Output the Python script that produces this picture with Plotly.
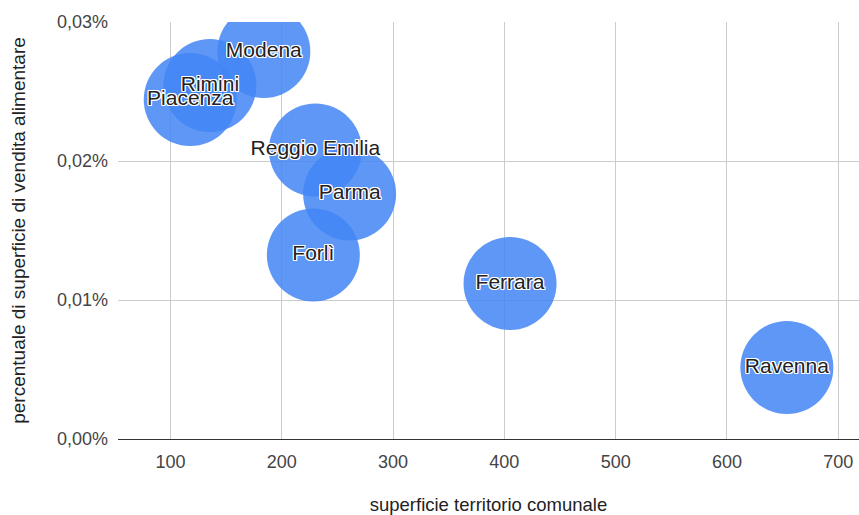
import plotly.graph_objects as go

comuni = ["Piacenza", "Rimini", "Modena", "Reggio Emilia", "Parma", "Forlì", "Ferrara", "Ravenna"]
superficie = [117.8, 135.5, 183.9, 230.2, 261.0, 228.4, 405.1, 653.8]
percentuale = [0.0002442, 0.0002543, 0.0002788, 0.0002079, 0.0001763, 0.0001324, 0.0001119, 0.0000514]

font_family = "Liberation Sans, Arial, sans-serif"
halo = ("1px 1px 0 #fff, -1px -1px 0 #fff, 1px -1px 0 #fff, -1px 1px 0 #fff, "
        "1px 0 0 #fff, -1px 0 0 #fff, 0 1px 0 #fff, 0 -1px 0 #fff")

fig = go.Figure(
    go.Scatter(
        x=superficie,
        y=percentuale,
        mode="markers+text",
        text=comuni,
        textposition="middle center",
        textfont=dict(family=font_family, size=21, color="#222222", shadow=halo),
        marker=dict(size=93, color="#4285F4", opacity=0.85, line=dict(width=0)),
        hoverinfo="x+y+text",
        cliponaxis=True,
    )
)

fig.update_layout(
    width=859,
    height=515,
    margin=dict(l=118, r=0, t=22, b=76),
    paper_bgcolor="white",
    plot_bgcolor="white",
    separators=",.",
    showlegend=False,
    font=dict(family=font_family, size=18, color="#444444"),
    shapes=[
        dict(type="rect", xref="paper", yref="paper", x0=0, x1=1, y0=1.0, y1=1.2,
             fillcolor="white", line=dict(width=0), layer="above"),
    ],
)

fig.update_xaxes(
    range=[52.9, 718.6],
    tickvals=[100, 200, 300, 400, 500, 600, 700],
    showgrid=True,
    gridcolor="#cccccc",
    gridwidth=1,
    zeroline=False,
    showline=False,
    ticks="",
    ticklabelstandoff=10,
    automargin=False,
    tickfont=dict(size=18, color="#444444"),
    title=dict(text="superficie territorio comunale", font=dict(size=18.5, color="#222222"), standoff=38),
)

fig.update_yaxes(
    range=[0, 0.0003],
    tickvals=[0, 0.0001, 0.0002, 0.0003],
    tickformat=".2%",
    showgrid=True,
    gridcolor="#cccccc",
    gridwidth=1,
    zeroline=True,
    zerolinecolor="#333333",
    zerolinewidth=1,
    showline=False,
    ticks="",
    ticklabelstandoff=9,
    automargin=False,
    tickfont=dict(size=18, color="#444444"),
    title=dict(text="percentuale di superficie di vendita alimentare", font=dict(size=19, color="#222222"), standoff=26),
)

fig.write_html(
    "out.html",
    config={"displayModeBar": False},
    post_script="document.body.style.margin='0';document.body.style.overflow='hidden';",
)
